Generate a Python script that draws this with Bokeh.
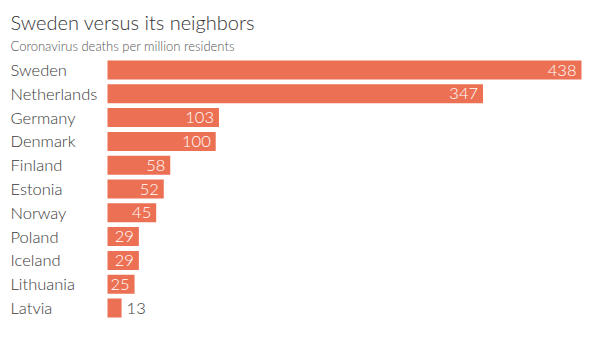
from bokeh.plotting import figure
from bokeh.models import Range1d, Label, ColumnDataSource
from bokeh.core.properties import value
from bokeh.embed import file_html
from bokeh.resources import INLINE

countries = ["Sweden", "Netherlands", "Germany", "Denmark", "Finland", "Estonia",
             "Norway", "Poland", "Iceland", "Lithuania", "Latvia"]
deaths = [438, 347, 103, 100, 58, 52, 45, 29, 29, 25, 13]
title_text = "Sweden versus its neighbors"
subtitle_text = "Coronavirus deaths per million residents"

W, H = 600, 352
x0_px, scale = 107.0, 474.0 / 438.0
row0_px, pitch = 69.5, 23.8

x_start = -x0_px / scale
x_end = (W - x0_px) / scale
y_top = -row0_px / pitch
y_bot = (H - row0_px) / pitch

p = figure(width=W, height=H, output_backend="svg", toolbar_location=None,
           x_range=Range1d(x_start, x_end), y_range=Range1d(y_bot, y_top),
           min_border=0, outline_line_color=None, background_fill_color="white")
p.axis.visible = False
p.grid.visible = False

idx = list(range(len(countries)))
inside = [v >= 20 for v in deaths]
src = ColumnDataSource(dict(y=idx, v=deaths))
p.hbar(y="y", left=0, right="v", height=19 / pitch, source=src,
       fill_color="#ec7154", line_color=None)

font = value("Lato Light")
p.text(x=[x_start + 10 / scale] * len(countries), y=idx, text=countries,
       text_font=font, text_font_size="16.5px", text_color="#3a3a3a",
       text_baseline="middle", text_align="left")

in_src = ColumnDataSource(dict(
    x=[v for v, ok in zip(deaths, inside) if ok],
    y=[i for i, ok in zip(idx, inside) if ok],
    t=[str(v) for v, ok in zip(deaths, inside) if ok]))
p.text(x="x", y="y", text="t", source=in_src, x_offset=-5,
       text_font=font, text_font_size="16.5px", text_color="white",
       text_baseline="middle", text_align="right")

out_src = ColumnDataSource(dict(
    x=[v for v, ok in zip(deaths, inside) if not ok],
    y=[i for i, ok in zip(idx, inside) if not ok],
    t=[str(v) for v, ok in zip(deaths, inside) if not ok]))
p.text(x="x", y="y", text="t", source=out_src, x_offset=5,
       text_font=font, text_font_size="16.5px", text_color="#3a3a3a",
       text_baseline="middle", text_align="left")

p.add_layout(Label(x=10, y=H - 21, x_units="screen", y_units="screen",
                   text=title_text, text_font="Lato Light", text_font_size="20px",
                   text_color="#333333", text_baseline="alphabetic"))
p.add_layout(Label(x=10, y=H - 45, x_units="screen", y_units="screen",
                   text=subtitle_text, text_font="Lato Light", text_font_size="13px",
                   text_color="#555555", text_baseline="alphabetic"))

open("out.html", "w").write(file_html(p, INLINE))
